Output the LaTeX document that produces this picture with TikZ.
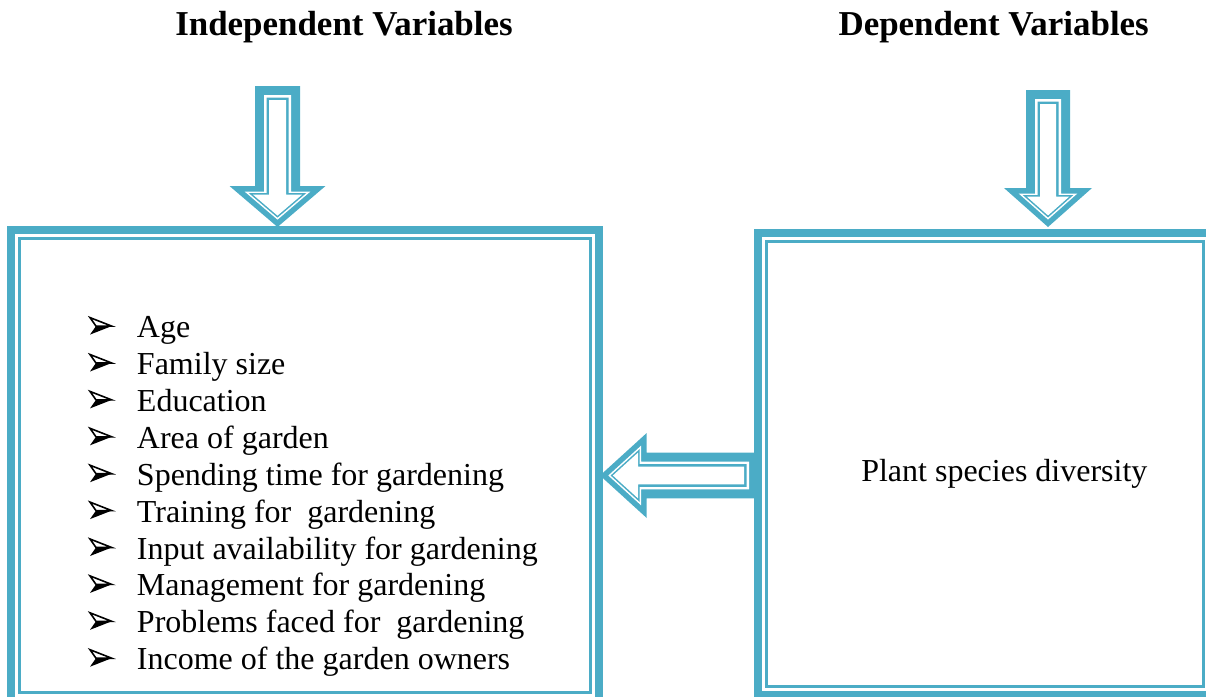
\documentclass[tikz,border=0pt]{standalone}
\usepackage{fontspec}
\setmainfont{Liberation Serif}
\definecolor{acc}{HTML}{4BACC6}
% one filled layer of a block arrow, inset by #1 (head edges by 0.62*#1), coloured #2
\newcommand\ArLayer[2]{%
  \pgfmathsetmacro\ArL{\ArYt-\ArYs}%
  \pgfmathsetmacro\ArDh{0.62*#1}%
  \pgfmathsetmacro\ArDel{\ArDh*sqrt(\ArH*\ArH+\ArL*\ArL)/\ArL}%
  \pgfmathsetmacro\ArHp{\ArH-\ArDel-\ArH*\ArDh/\ArL}%
  \pgfmathsetmacro\ArTp{\ArYs+\ArL*(1-\ArDel/\ArH)}%
  \pgfmathsetmacro\ArSp{\ArS-#1}%
  \pgfmathsetmacro\ArYy{\ArYs+\ArDh}%
  \fill[#2] \ArP{-\ArSp}{#1} -- \ArP{\ArSp}{#1} -- \ArP{\ArSp}{\ArYy} -- \ArP{\ArHp}{\ArYy} -- \ArP{0}{\ArTp} -- \ArP{-\ArHp}{\ArYy} -- \ArP{-\ArSp}{\ArYy} -- cycle;}
\newcommand\ArFull{\ArLayer{0}{acc}\ArLayer{9}{white}\ArLayer{11.5}{acc}\ArLayer{14}{white}}
% bullet drawn before the text of item #1
\newcommand\Bul[1]{%
  \fill[black] ([shift={(-40.7,-11.5)}]#1.base west) -- ([shift={(-25,-11.5)}]#1.base west) -- ([shift={(-46.7,-3)}]#1.base west) -- cycle;
  \draw[black, line width=1.2pt, line join=miter, fill=white] ([shift={(-46.7,-20)}]#1.base west) -- ([shift={(-25,-11.5)}]#1.base west) -- ([shift={(-40.7,-11.5)}]#1.base west) -- cycle;}
\begin{document}
\begin{tikzpicture}[x=0.75pt,y=-0.75pt,
  itemtxt/.style={anchor=base west, inner sep=0pt, font=\fontsize{24}{28}\selectfont},
  titletxt/.style={anchor=base west, inner sep=0pt, font=\fontsize{26.2}{30}\selectfont\bfseries},
  thickframe/.style={draw=acc, line width=6pt},
  thinframe/.style={draw=acc, line width=2.25pt}]
\useasboundingbox (0,0) rectangle (1206,696);
\clip (0,0) rectangle (1206,696);

% titles
\node[titletxt] (tiv) at (175,36) {Independent Variables};
\node[titletxt] (tdv) at (838.3,36) {Dependent Variables};

% boxes
\coordinate (ivA) at (11,230);   \coordinate (ivB) at (599,701);
\coordinate (ivC) at (19.5,238.5); \coordinate (ivD) at (590.5,692.5);
\coordinate (dvA) at (758,233);  \coordinate (dvB) at (1212,695);
\coordinate (dvC) at (766.5,241.5); \coordinate (dvD) at (1203.5,686.5);
\draw[thickframe] (ivA) rectangle (ivB);
\draw[thinframe] (ivC) rectangle (ivD);
\draw[thickframe] (dvA) rectangle (dvB);
\draw[thinframe] (dvC) rectangle (dvD);

% down arrow (independent)
\def\ArS{22.5}\def\ArH{48}\def\ArYs{100}\def\ArYt{141}
\def\ArCx{277.5}\def\ArTop{86}
\def\ArP#1#2{({\ArCx+(#1)},{\ArTop+(#2)})}
\ArFull
% down arrow (dependent)
\def\ArS{22}\def\ArH{44}\def\ArYs{98}\def\ArYt{137}
\def\ArCx{1048}\def\ArTop{90}
\ArFull
% left arrow between boxes
\def\ArS{22.8}\def\ArH{42.5}\def\ArYs{111.3}\def\ArYt{158}
\def\ArBx{758}\def\ArCy{475.5}
\def\ArP#1#2{({\ArBx-(#2)},{\ArCy+(#1)})}
\ArFull

% list
\foreach \t [count=\i from 0] in {Age,Family size,Education,Area of garden,Spending time for gardening,Training for~ gardening,Input availability for gardening,Management for gardening,Problems faced for~ gardening,Income of the garden owners}{
  \node[itemtxt] (it\i) at (136.7,{337.6+36.9*\i}) {\t};
  \Bul{it\i}
}

% dependent text
\node[itemtxt] (psd) at (861,481) {Plant species diversity};
\end{tikzpicture}
\end{document}
